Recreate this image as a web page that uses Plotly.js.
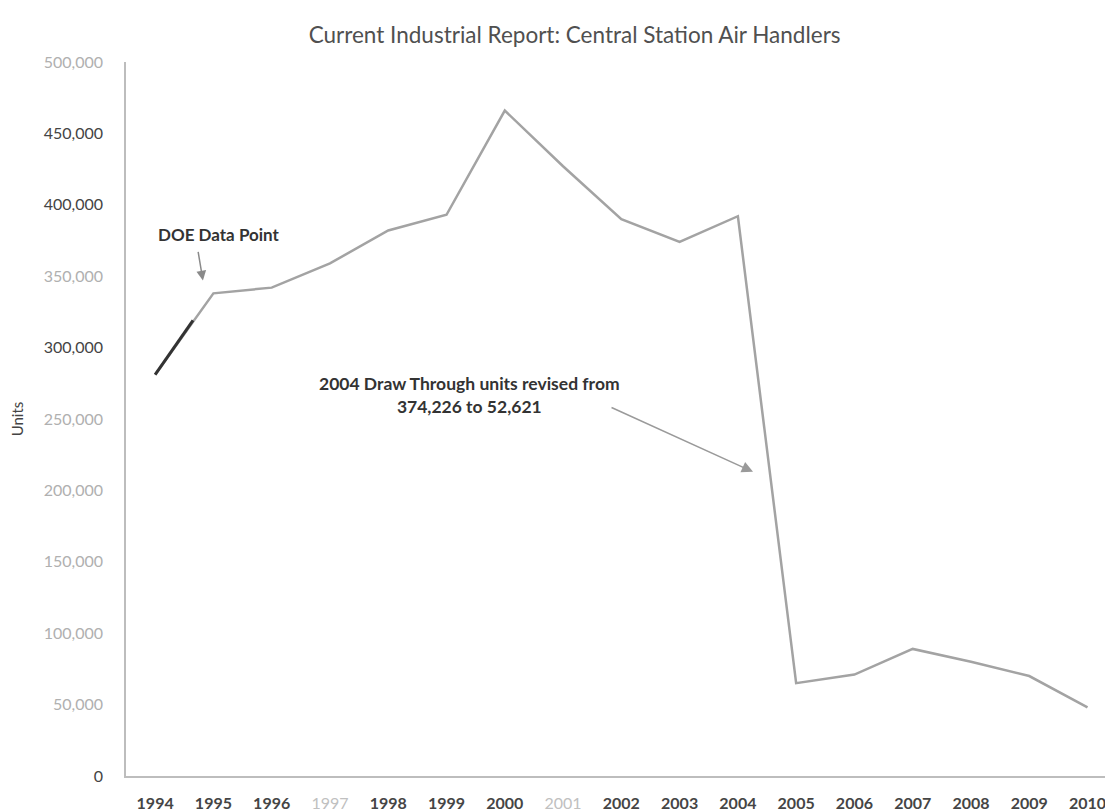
<!DOCTYPE html>
<html>
<head>
<meta charset="utf-8">
<script src="https://cdn.plot.ly/plotly-3.0.1.min.js"></script>
<style>html,body{margin:0;padding:0;background:#fff;}#chart{width:1105px;height:811px;}</style>
</head>
<body>
<div id="chart"></div>
<script>
// Data
var years = [1994,1995,1996,1997,1998,1999,2000,2001,2002,2003,2004,2005,2006,2007,2008,2009,2010];
var units = [281000,338000,342000,359000,382000,393000,466000,427000,390000,374000,392000,65000,71000,89000,80000,70000,48000];
// Dark highlighted start of the 1994-1995 segment (as drawn in the picture)
var darkX = [1994, 1994.65];
var darkY = [281000, 319000];

var yTickVals = [0,50000,100000,150000,200000,250000,300000,350000,400000,450000,500000];
var yTickText = ['0','50,000','100,000','150,000','200,000','250,000','300,000','350,000','400,000','450,000','500,000'];
var yTickDark = [true,false,false,false,false,false,true,false,true,true,false];
var xTickText = ['1994','1995','1996','1997','1998','1999','2000','2001','2002','2003','2004','2005','2006','2007','2008','2009','2010'];
var xTickLight = ['1997','2001'];

var yText = yTickText.map(function(t,i){
  return yTickDark[i] ? '<span style="color:#444">'+t+'</span>' : '<span style="color:#b0b0b0">'+t+'</span>';
});
var xText = xTickText.map(function(t){
  return xTickLight.indexOf(t) >= 0 ? '<span style="color:#c0c0c0">'+t+'</span>' : '<b>'+t+'</b>';
});

var traces = [
  {x: years, y: units, type: 'scatter', mode: 'lines',
   line: {color: '#a3a3a3', width: 2.5}, hoverinfo: 'x+y'},
  {x: darkX, y: darkY, type: 'scatter', mode: 'lines',
   line: {color: '#333333', width: 3}, hoverinfo: 'skip'}
];

var layout = {
  width: 1105, height: 811,
  margin: {l: 126, r: 0, t: 62, b: 35},
  paper_bgcolor: '#ffffff', plot_bgcolor: '#ffffff',
  showlegend: false,
  font: {family: 'Lato, "Open Sans", sans-serif', color: '#444'},
  title: {text: 'Current Industrial Report: Central Station Air Handlers',
          x: 0.52, xanchor: 'center', y: 0.957, yanchor: 'middle',
          font: {size: 22.5, color: '#505050', family: 'Lato, "Open Sans", sans-serif'}},
  xaxis: {
    range: [1993.5, 2010.3], showgrid: false, zeroline: false,
    showline: true, linecolor: '#bdbdbd', linewidth: 1.5,
    tickmode: 'array', tickvals: years, ticktext: xText,
    ticks: '', ticklabelstandoff: 12, ticklabeloverflow: 'allow',
    tickfont: {size: 16, color: '#454545'}
  },
  yaxis: {
    range: [0, 500000], showgrid: false, zeroline: false,
    showline: true, linecolor: '#bdbdbd', linewidth: 1.5,
    tickmode: 'array', tickvals: yTickVals, ticktext: yText,
    ticks: '', ticklabelstandoff: 18,
    tickfont: {size: 16, color: '#444'},
    title: {text: 'Units', standoff: 16, font: {size: 15, color: '#444'}}
  },
  annotations: [
    {x: 1995.09, y: 379000, xref: 'x', yref: 'y', text: '<b>DOE Data Point</b>',
     showarrow: false, font: {size: 17, color: '#333'}},
    {x: 1994.82, y: 347000, xref: 'x', yref: 'y', text: '', showarrow: true,
     ax: -5, ay: -30, arrowhead: 2, arrowsize: 1.3, arrowwidth: 1.5, arrowcolor: '#8a8a8a'},
    {x: 1999.39, y: 266500, xref: 'x', yref: 'y',
     text: '<b>2004 Draw Through units revised from<br>374,226 to 52,621</b>',
     showarrow: false, align: 'center', font: {size: 17.5, color: '#333'}},
    {x: 2004.26, y: 213000, xref: 'x', yref: 'y', text: '', showarrow: true,
     ax: -143, ay: -65, arrowhead: 2, arrowsize: 1.5, arrowwidth: 1.5, arrowcolor: '#9a9a9a'}
  ]
};

Plotly.newPlot('chart', traces, layout, {displayModeBar: false, responsive: false});
</script>
</body>
</html>
